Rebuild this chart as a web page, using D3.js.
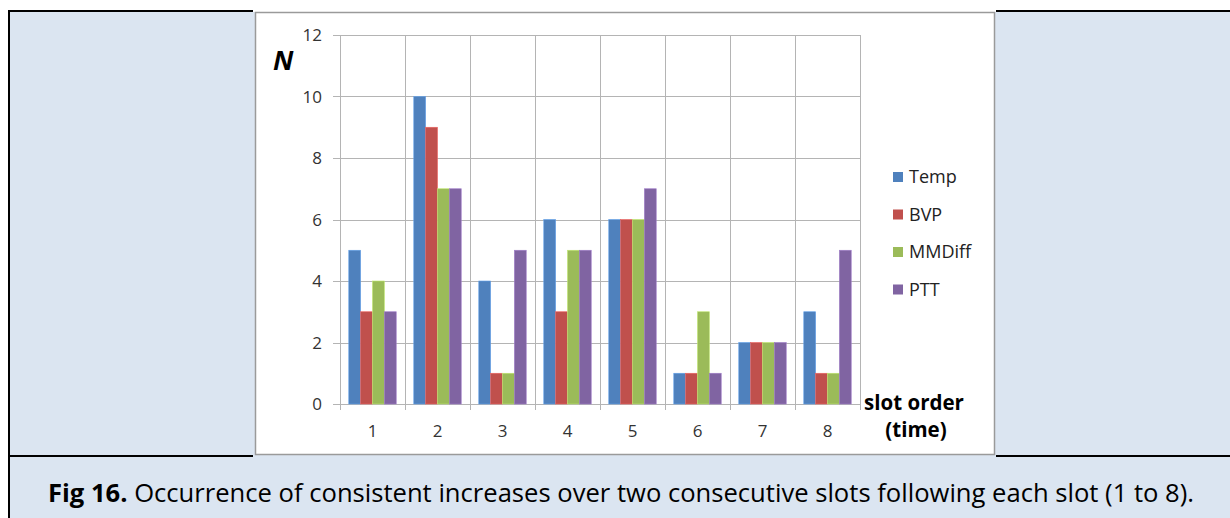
<!DOCTYPE html>
<html><head><meta charset="utf-8">
<script src="https://cdn.jsdelivr.net/npm/d3@7"></script>
<style>
html,body{margin:0;padding:0;background:#fff;}
svg{display:block;}
</style></head>
<body>
<svg id="c" width="1230" height="518"></svg>
<script>
const categories = ["1","2","3","4","5","6","7","8"];
const seriesNames = ["Temp","BVP","MMDiff","PTT"];
const temp   = [5,10,4,6,6,1,2,3];
const bvp    = [3,9,1,3,6,1,2,1];
const mmdiff = [4,7,1,5,6,3,2,1];
const ptt    = [3,7,5,5,7,1,2,5];
const colors = ["#4F81BD","#C0504D","#9BBB59","#8064A2"];
const yTicks = [0,2,4,6,8,10,12];

const series = [temp,bvp,mmdiff,ptt];
const svg = d3.select("#c");
const font = "'Open Sans', 'Liberation Sans', sans-serif";

// background panels
svg.append("rect").attr("x",9).attr("y",12).attr("width",1221).attr("height",506).attr("fill","#DBE5F1");
// chart panel
svg.append("rect").attr("x",255.5).attr("y",12.5).attr("width",739).attr("height",442)
  .attr("fill","#fff").attr("stroke","#9a9a9a").attr("stroke-width",1.5);
// table borders (black)
const bl = svg.append("g").attr("stroke","#000").attr("stroke-width",2);
bl.append("line").attr("x1",8).attr("x2",253).attr("y1",11).attr("y2",11);
bl.append("line").attr("x1",996).attr("x2",1230).attr("y1",11).attr("y2",11);
bl.append("line").attr("x1",9).attr("x2",9).attr("y1",10).attr("y2",518);
bl.append("line").attr("x1",8).attr("x2",253).attr("y1",456).attr("y2",456);
bl.append("line").attr("x1",996).attr("x2",1230).attr("y1",456).attr("y2",456);

const x0 = d3.scaleBand().domain(categories).range([340,860]).paddingInner(0).paddingOuter(0);
const x1 = d3.scaleBand().domain(seriesNames).range([0,x0.bandwidth()]).paddingInner(0).paddingOuter(0.74);
const y = d3.scaleLinear().domain([0,12]).range([404,35]);

const grid = svg.append("g").attr("stroke","#b4b4b4").attr("stroke-width",1);
yTicks.forEach(t=>{
  grid.append("line").attr("x1",333).attr("x2",860).attr("y1",Math.round(y(t))+0.5).attr("y2",Math.round(y(t))+0.5);
});
categories.concat(["end"]).forEach((c,i)=>{
  const xv = i<categories.length ? x0(c) : x0.range()[1];
  grid.append("line").attr("x1",Math.round(xv)+0.5).attr("x2",Math.round(xv)+0.5).attr("y1",y(12)).attr("y2",410);
});

// bars
const gBars = svg.append("g");
categories.forEach((c,ci)=>{
  seriesNames.forEach((s,si)=>{
    const v = series[si][ci];
    gBars.append("rect")
      .attr("x",x0(c)+x1(s)).attr("y",y(v))
      .attr("width",x1.bandwidth()).attr("height",y(0)-y(v))
      .attr("fill",colors[si])
      .attr("stroke",d3.color(colors[si]).brighter(0.6)).attr("stroke-width",0.6);
  });
});

// y tick labels
svg.append("g").selectAll("text").data(yTicks).join("text")
  .attr("x",322).attr("y",d=>y(d)+6).attr("text-anchor","end")
  .attr("font-family",font).attr("font-size",17).attr("fill","#333")
  .text(d=>d);
// x labels
svg.append("g").selectAll("text").data(categories).join("text")
  .attr("x",d=>x0(d)+x0.bandwidth()/2).attr("y",437).attr("text-anchor","middle")
  .attr("font-family",font).attr("font-size",17).attr("fill","#333")
  .text(d=>d);

// N label
svg.append("text").attr("x",273).attr("y",70).attr("font-family",font)
  .attr("font-size",27).attr("font-weight","bold").attr("font-style","italic").attr("fill","#000").text("N");
// slot order label
svg.append("text").attr("x",914).attr("y",410).attr("text-anchor","middle").attr("font-family",font)
  .attr("font-size",20.5).attr("font-weight","bold").attr("fill","#000").text("slot order");
svg.append("text").attr("x",916).attr("y",437).attr("text-anchor","middle").attr("font-family",font)
  .attr("font-size",20.5).attr("font-weight","bold").attr("fill","#000").text("(time)");

// legend
const lg = svg.append("g");
seriesNames.forEach((s,i)=>{
  const ly = 177 + i*37.5;
  lg.append("rect").attr("x",893).attr("y",ly-5).attr("width",10).attr("height",10).attr("fill",colors[i]);
  lg.append("text").attr("x",909).attr("y",ly+6).attr("font-family",font).attr("font-size",18)
    .attr("fill","#222").text(s);
});

// caption
const cap = svg.append("text").attr("x",48).attr("y",502).attr("font-family",font)
  .attr("font-size",25.6).attr("fill","#000");
cap.append("tspan").attr("font-weight","bold").text("Fig 16.");
cap.append("tspan").text(" Occurrence of consistent increases over two consecutive slots following each slot (1 to 8).");
</script>
</body></html>
